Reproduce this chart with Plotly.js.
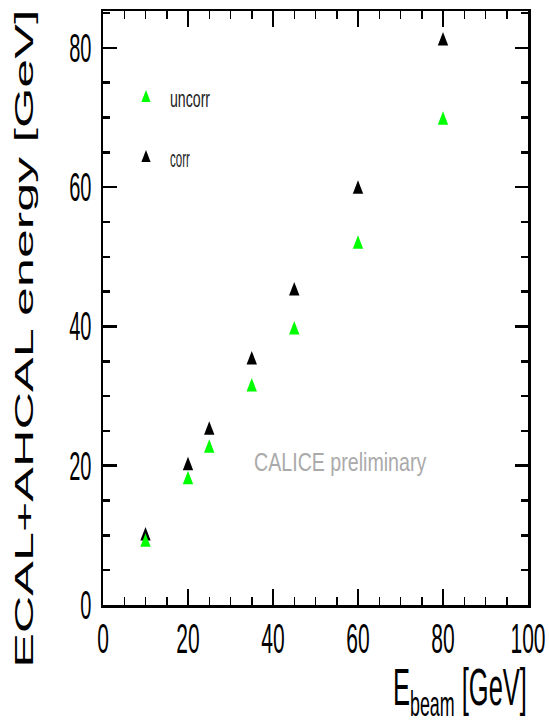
<!DOCTYPE html>
<html>
<head>
<meta charset="utf-8">
<script src="https://cdn.plot.ly/plotly-3.0.1.min.js"></script>
<style>
  html, body { margin: 0; padding: 0; background: #fff; overflow: hidden; }
  #wrap { width: 549px; height: 724px; overflow: hidden; }
  #chart { width: 1098px; height: 724px; transform: scaleX(0.5); transform-origin: 0 0; }
  g.annotation[data-index="2"] text.annotation-text {
    transform: scaleX(1.51); transform-box: fill-box; transform-origin: 0 50%;
  }
  text.legendtext {
    transform: scaleX(1.23); transform-box: fill-box; transform-origin: 0 50%;
  }
</style>
</head>
<body>
<div id="wrap"><div id="chart"></div></div>
<script>
// ---- data ----
const beamEnergy   = [10, 20, 25, 35, 45, 60, 80];
const uncorrEnergy = [9.0, 18.0, 22.5, 31.3, 39.5, 51.8, 69.6];
const corrEnergy   = [9.9, 20.0, 25.1, 35.2, 45.1, 59.7, 81.0];
const seriesNames  = ['uncorr', 'corr'];
const xTickVals = [0, 20, 40, 60, 80, 100];
const yTickVals = [0, 20, 40, 60, 80];
const xTitle = 'E<sub>beam</sub> [GeV]';
const yTitle = 'ECAL+AHCAL energy [GeV]';
const stampText = 'CALICE preliminary';

const FONT = 'Liberation Sans, Arial, Helvetica, sans-serif';

const traces = [
  {
    x: beamEnergy, y: corrEnergy, name: seriesNames[1],
    type: 'scatter', mode: 'markers', legend: 'legend2',
    marker: { symbol: 'triangle-up', size: 18, color: '#000000' }
  },
  {
    x: beamEnergy, y: uncorrEnergy, name: seriesNames[0],
    type: 'scatter', mode: 'markers', legend: 'legend',
    marker: { symbol: 'triangle-up', size: 18, color: '#00ff00' }
  }
];

const legendCommon = {
  xanchor: 'left', yanchor: 'middle',
  bgcolor: 'rgba(0,0,0,0)', borderwidth: 0,
  itemwidth: 86,
  font: { family: FONT, size: 23, color: '#222222' }
};

const layout = {
  width: 1098, height: 724,
  margin: { l: 206, r: 42, t: 11, b: 119, pad: 0 },
  paper_bgcolor: '#ffffff', plot_bgcolor: '#ffffff',
  showlegend: true,
  legend: Object.assign({ x: 0.0447, y: 0.8535 }, legendCommon),
  legend2: Object.assign({ x: 0.0447, y: 0.7525 }, legendCommon),
  xaxis: {
    range: [0, 100], tickmode: 'array', tickvals: xTickVals,
    ticks: 'inside', ticklen: 16, tickwidth: 4, tickcolor: '#000',
    minor: { dtick: 5, ticks: 'inside', ticklen: 8, tickwidth: 3, tickcolor: '#000', showgrid: false },
    showline: true, linewidth: 2.5, linecolor: '#000', mirror: 'ticks',
    showgrid: false, zeroline: false,
    ticklabelstandoff: -5,
    tickfont: { family: FONT, size: 42, color: '#000' }
  },
  yaxis: {
    range: [0, 85.3], tickmode: 'array', tickvals: yTickVals,
    ticks: 'inside', ticklen: 27, tickwidth: 2.5, tickcolor: '#000',
    minor: { dtick: 5, ticks: 'inside', ticklen: 14, tickwidth: 2.5, tickcolor: '#000', showgrid: false },
    showline: true, linewidth: 5, linecolor: '#000', mirror: 'ticks',
    showgrid: false, zeroline: false,
    ticklabelstandoff: 10,
    tickfont: { family: FONT, size: 40, color: '#000' }
  },
  annotations: [
    {
      text: yTitle, xref: 'paper', yref: 'paper',
      x: -0.1859, y: 0.4495, xanchor: 'center', yanchor: 'middle',
      textangle: -90, showarrow: false,
      font: { family: FONT, size: 52, color: '#000' }
    },
    {
      text: xTitle, xref: 'paper', yref: 'paper',
      x: 1, y: -0.1448, xanchor: 'right', yanchor: 'middle',
      showarrow: false,
      font: { family: FONT, size: 51, color: '#000' }
    },
    {
      text: stampText, xref: 'paper', yref: 'paper',
      x: 0.353, y: 0.2407, xanchor: 'left', yanchor: 'middle',
      showarrow: false,
      font: { family: FONT, size: 26, color: '#aaaaaa' }
    }
  ]
};

Plotly.newPlot('chart', traces, layout, { displayModeBar: false, staticPlot: true });
</script>
</body>
</html>
